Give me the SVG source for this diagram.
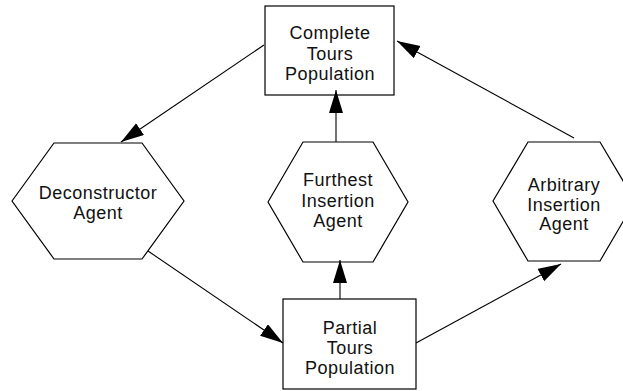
<svg xmlns="http://www.w3.org/2000/svg" width="623" height="391" viewBox="0 0 623 391">
  <style>
    .shape { fill: #fff; stroke: #000; stroke-width: 1.2; }
    .label { font-family: "Liberation Sans", Arial, sans-serif; font-size: 18px; letter-spacing: 0.5px; fill: #111; text-anchor: middle; }
    .link { fill: none; stroke: #000; stroke-width: 1.1; marker-end: url(#arrow); }
  </style>
  <defs>
    <marker id="arrow" markerUnits="userSpaceOnUse" markerWidth="24" markerHeight="15" refX="23" refY="7" orient="auto">
      <path d="M0,0 L23,7 L0,14 Z" fill="#000"/>
    </marker>
  </defs>
  <rect width="623" height="391" fill="#fff"/>

  <g id="complete-tours">
    <rect class="shape" x="265" y="6" width="129" height="89"/>
    <text class="label" x="330" y="39">Complete</text>
    <text class="label" x="330" y="60">Tours</text>
    <text class="label" x="330" y="80">Population</text>
  </g>

  <g id="deconstructor-agent">
    <polygon class="shape" points="12,201 54,143 142,143 184,201 142,259 54,259"/>
    <text class="label" x="98" y="199">Deconstructor</text>
    <text class="label" x="98" y="219">Agent</text>
  </g>

  <g id="furthest-insertion-agent">
    <polygon class="shape" points="268,202 303,142 373,142 408,202 373,262 303,262"/>
    <text class="label" x="338" y="186">Furthest</text>
    <text class="label" x="338" y="207">Insertion</text>
    <text class="label" x="338" y="227">Agent</text>
  </g>

  <g id="arbitrary-insertion-agent">
    <polygon class="shape" points="493,201 528,142 600,142 635,201 600,261 528,261"/>
    <text class="label" x="564" y="191">Arbitrary</text>
    <text class="label" x="564" y="211">Insertion</text>
    <text class="label" x="564" y="230">Agent</text>
  </g>

  <g id="partial-tours">
    <rect class="shape" x="283" y="299" width="133" height="90"/>
    <text class="label" x="350" y="334">Partial</text>
    <text class="label" x="350" y="354">Tours</text>
    <text class="label" x="350" y="374">Population</text>
  </g>

  <g id="connectors">
    <line class="link" x1="264" y1="45" x2="121" y2="142"/>
    <line class="link" x1="148" y1="251" x2="283" y2="343"/>
    <line class="link" x1="340" y1="299" x2="340" y2="260"/>
    <line class="link" x1="336" y1="142" x2="336" y2="90"/>
    <line class="link" x1="416" y1="343" x2="561" y2="264"/>
    <line class="link" x1="574" y1="138" x2="397" y2="41"/>
  </g>
</svg>
